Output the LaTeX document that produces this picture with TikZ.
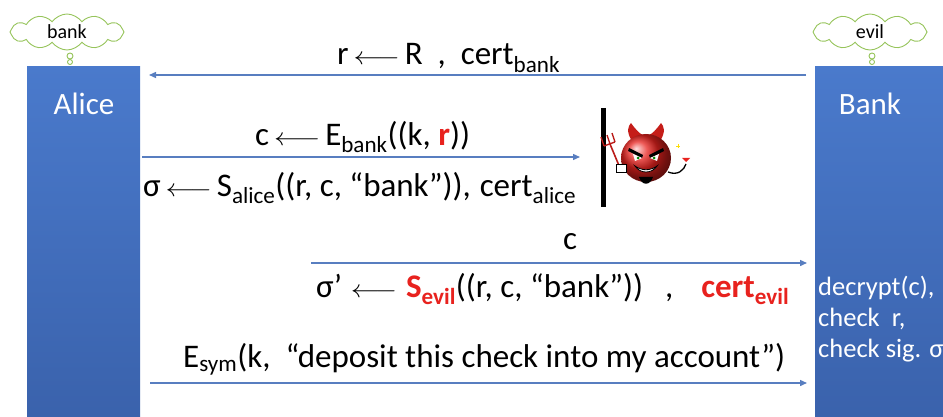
\documentclass[tikz,border=0pt]{standalone}
\usepackage{fontspec}
\setmainfont{Carlito}
\usetikzlibrary{shapes.symbols,arrows.meta}
\definecolor{boxtop}{RGB}{74,122,204}
\definecolor{boxbot}{RGB}{58,98,172}
\definecolor{msgblue}{RGB}{88,126,192}
\definecolor{cloudgreen}{RGB}{150,196,90}
\definecolor{evilred}{RGB}{232,34,30}
\newcommand{\sbs}[1]{\textsubscript{#1}}
\newcommand{\assign}{\kern5pt\scalebox{1.15}[1]{$\longleftarrow$}\kern5pt}
\tikzset{
  party/.style={draw=none, top color=boxtop, bottom color=boxbot, anchor=north west, inner sep=0pt},
  partyname/.style={text=white, font=\fontsize{31}{34}\selectfont},
  thought/.style={cloud, cloud puffs=12, cloud puff arc=110, aspect=3.2, draw=cloudgreen, line width=0.9pt,
    fill=white, font=\fontsize{20}{22}\selectfont, minimum width=114pt, minimum height=36pt, inner sep=1pt},
  bubble/.style={circle, draw=cloudgreen, line width=0.9pt, fill=white, inner sep=0pt},
  msg/.style={draw=msgblue, line width=1.4pt, -{Triangle[length=7pt,width=6pt]}},
  lbl/.style={font=\fontsize{33}{35}\selectfont, inner sep=0pt},
  note/.style={text=white, font=\fontsize{26.5}{31}\selectfont, align=left, anchor=north west, inner sep=0pt},
}
\begin{document}
\begin{tikzpicture}[x=1pt,y=-1pt]
\useasboundingbox (0,0) rectangle (943,417);
\fill[white] (0,0) rectangle (943,417);

% the two parties
\node[party, minimum width=113pt, minimum height=351pt] (alice) at (27,66) {};
\node[party, minimum width=128pt, minimum height=351pt] (bank) at (815,66) {};
\node[partyname] (alicename) at (84,104) {Alice};
\node[partyname] (bankname) at (870,104) {Bank};

% thought clouds with their bubbles
\node[thought] (bankcloud) at (67,32) {bank};
\node[bubble, minimum size=6pt] (bb1) at (70,56) {};
\node[bubble, minimum size=5pt] (bb2) at (70,62) {};
\node[thought] (evilcloud) at (870,32) {evil};
\node[bubble, minimum size=6pt] (eb1) at (872,56) {};
\node[bubble, minimum size=5pt] (eb2) at (872,62) {};

% message end points
\coordinate (m1s) at (806,75);  \coordinate (m1e) at (149,75);
\coordinate (m2s) at (142,157); \coordinate (m2e) at (580,157);
\coordinate (m3s) at (311,263); \coordinate (m3e) at (807,263);
\coordinate (m4s) at (150,383); \coordinate (m4e) at (807,383);

\draw[msg] (m1s) -- (m1e);
\draw[msg] (m2s) -- (m2e);
\draw[msg] (m3s) -- (m3e);
\draw[msg] (m4s) -- (m4e);

% message labels
\node[lbl, anchor=west] (l1) at (337,58) {r\assign R \ ,\ \ cert\sbs{bank}};
\node[lbl, anchor=west] (l2) at (255,137) {c\assign E\sbs{bank}((k, \textcolor{evilred}{\textbf{r}}))};
\node[lbl, anchor=west] (l3) at (143,188) {σ\assign S\sbs{alice}((r, c, “bank”)),\hspace{9pt}cert\sbs{alice}};
\node[lbl] (l4) at (570,242) {c};
\node[lbl, anchor=west] (l5) at (316,289) {σ’\kern4pt\assign\kern4pt{\color{evilred}\bfseries S\sbs{evil}}((r, c, “bank”))\hspace{22pt},\hspace{28pt}{\color{evilred}\bfseries cert\sbs{evil}}};
\node[lbl, anchor=west] (l6) at (183,359) {E\sbs{sym}(k,\ \ “deposit this check into my account”)};

% bank's checks
\node[note] (checks) at (818,276) {decrypt(c),\\check\ \ r,\\check sig. σ};

% the attacker's wall
\draw[line width=5pt, black] (603,108) -- (603,207);

% the devil
\begin{scope}[shift={(646,158)}]
  % trident
  \draw[line width=1.6pt, evilred!80!black] (-26,10) -- (-36,-14);
  \draw[line width=1.4pt, evilred!80!black] (-42,-12) -- (-31,-16) (-42,-12) -- (-45,-21) (-31,-16) -- (-34,-25) (-36,-14) -- (-39,-23);
  % tail
  \draw[line width=1.3pt, black] (22,14) .. controls (32,18) and (38,12) .. (40,6);
  \fill[evilred] (40,4) -- (36,0) -- (44,0) -- cycle;
  % horns
  \fill[evilred!85!black] (-14,-17) .. controls (-20,-26) and (-18,-32) .. (-15,-35) .. controls (-10,-28) and (-6,-24) .. (-3,-23) -- cycle;
  \fill[evilred!85!black] (14,-17) .. controls (20,-26) and (18,-32) .. (15,-35) .. controls (10,-28) and (6,-24) .. (3,-23) -- cycle;
  % head
  \shade[ball color=evilred] (0,0) ellipse (25 and 24);
  % gloved hand on the trident
  \fill[white] (-30,6) rectangle (-20,14);
  \draw[black, line width=0.6pt] (-30,6) rectangle (-20,14);
  % eyebrows and eyes
  \fill[black] (-17,-10) -- (-3,-3) -- (-4,0) -- (-18,-7) -- cycle;
  \fill[black] (17,-10) -- (3,-3) -- (4,0) -- (18,-7) -- cycle;
  \fill[white] (-13,-4) -- (-4,0) -- (-11,3) -- cycle;
  \fill[white] (13,-4) -- (4,0) -- (11,3) -- cycle;
  \fill[green!50!black] (-8,0) circle (1.5);
  \fill[green!50!black] (8,0) circle (1.5);
  % grin
  \fill[white] (-11,8) .. controls (-4,13) and (4,13) .. (11,8) .. controls (6,16) and (-6,16) .. cycle;
  \draw[black, line width=0.8pt] (-11,8) .. controls (-4,13) and (4,13) .. (11,8) .. controls (6,16) and (-6,16) .. cycle;
  % goatee
  \fill[black] (-7,19) .. controls (-4,28) and (4,28) .. (7,19) -- cycle;
  % spark
  \draw[yellow!80!orange, line width=0.8pt] (30,-12) -- (34,-12) (32,-14) -- (32,-10);
\end{scope}
\end{tikzpicture}
\end{document}
